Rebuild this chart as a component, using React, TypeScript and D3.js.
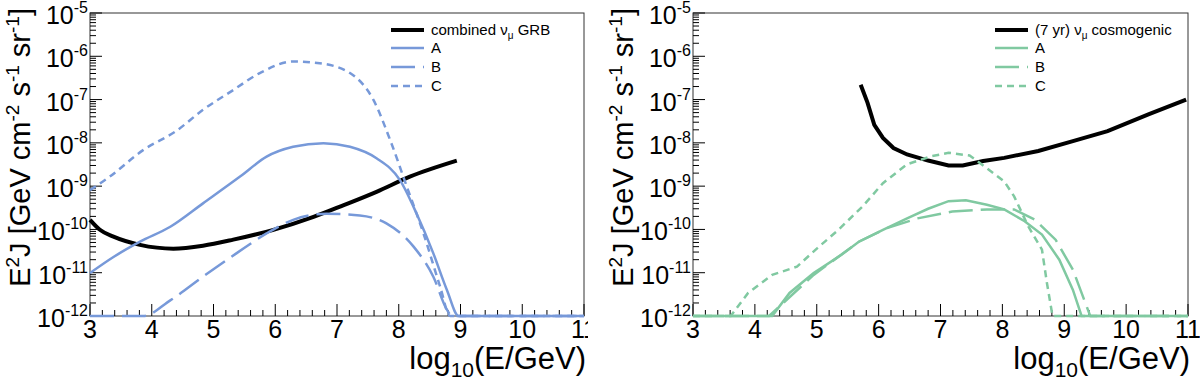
import React from 'react'
import * as d3 from 'd3'

// axes
const xTicks = [3, 4, 5, 6, 7, 8, 9, 10, 11]
const yExponents = [-12, -11, -10, -9, -8, -7, -6, -5]

// left panel - GRB (x = log10(E/GeV), y = E^2 J)
const grbCombinedX = [3.0, 3.16, 3.38, 3.81, 4.35, 4.83, 5.32, 5.97, 6.62, 7.1, 7.64, 8.18, 8.94]
const grbCombinedY = [1.66e-10, 9.8e-11, 6.8e-11, 4.4e-11, 3.6e-11, 4.2e-11, 5.8e-11, 9.8e-11, 1.95e-10, 3.6e-10, 7.4e-10, 1.66e-9, 3.9e-9]

const grbAX = [3.0, 3.38, 3.81, 4.3, 4.83, 5.43, 5.86, 6.29, 6.78, 7.21, 7.64, 8.02, 8.29, 8.56, 8.78, 8.97, 11]
const grbAY = [9.8e-12, 2.3e-11, 5.2e-11, 1.15e-10, 4.0e-10, 1.66e-9, 4.8e-9, 8.1e-9, 9.8e-9, 8.1e-9, 4.4e-9, 1.38e-9, 2.3e-10, 2.8e-11, 4.0e-12, 1e-12, 1e-12]

const grbBX = [3.0, 3.86, 4.3, 4.83, 5.37, 5.86, 6.29, 6.83, 7.37, 7.8, 8.24, 8.56, 8.78, 8.86, 11]
const grbBY = [1e-12, 1e-12, 2.3e-12, 8.1e-12, 2.8e-11, 8.1e-11, 1.66e-10, 2.3e-10, 2.1e-10, 1.38e-10, 4.0e-11, 8.1e-12, 1.4e-12, 1e-12, 1e-12]

const grbCX = [3.0, 3.32, 3.86, 4.4, 4.83, 5.32, 5.75, 6.29, 6.72, 7.21, 7.59, 7.86, 8.13, 8.4, 8.67, 8.83, 11]
const grbCY = [8.1e-10, 1.66e-9, 6.8e-9, 1.9e-8, 5.8e-8, 1.66e-7, 4.1e-7, 7.6e-7, 6.9e-7, 4.1e-7, 9.8e-8, 1.17e-8, 9.8e-10, 8.1e-11, 4.8e-12, 1e-12, 1e-12]

// right panel - cosmogenic
const cosmoSensX = [5.71, 5.82, 5.93, 6.07, 6.24, 6.46, 6.8, 7.13, 7.36, 7.69, 8.03, 8.58, 9.14, 9.7, 10.37, 10.97]
const cosmoSensY = [2.2e-7, 8.5e-8, 2.6e-8, 1.3e-8, 7.6e-9, 5.4e-9, 3.9e-9, 3.0e-9, 3.0e-9, 3.8e-9, 4.5e-9, 6.5e-9, 1.1e-8, 1.86e-8, 4.6e-8, 1.0e-7]

const cosmoAX = [3, 4.28, 4.56, 4.95, 5.4, 5.68, 6.07, 6.46, 6.8, 7.13, 7.41, 7.75, 8.03, 8.36, 8.64, 8.92, 9.14, 9.28, 11]
const cosmoAY = [1e-12, 1e-12, 3.4e-12, 9.8e-12, 2.6e-11, 5.2e-11, 9.8e-11, 1.8e-10, 3.0e-10, 4.5e-10, 4.7e-10, 3.7e-10, 2.9e-10, 1.55e-10, 7.6e-11, 2.0e-11, 4.0e-12, 1e-12, 1e-12]

const cosmoBX = [3, 4.23, 4.95, 5.68, 6.13, 6.63, 7.19, 7.75, 8.19, 8.53, 8.86, 9.14, 9.42, 11]
const cosmoBY = [1e-12, 1e-12, 8.9e-12, 5.2e-11, 1.07e-10, 1.8e-10, 2.6e-10, 2.9e-10, 2.9e-10, 1.66e-10, 5.8e-11, 1.17e-11, 1e-12, 1e-12]

const cosmoCX = [3, 3.61, 3.89, 4.28, 4.68, 5.01, 5.35, 5.74, 6.07, 6.46, 6.85, 7.13, 7.47, 7.75, 8.03, 8.19, 8.42, 8.64, 8.72, 8.81, 11]
const cosmoCY = [1e-12, 1e-12, 3.4e-12, 8.9e-12, 1.38e-11, 3.7e-11, 9.8e-11, 3.4e-10, 1.17e-9, 3.2e-9, 4.9e-9, 5.9e-9, 5.1e-9, 2.6e-9, 1.29e-9, 5.8e-10, 1.17e-10, 3.4e-11, 5.8e-12, 1e-12, 1e-12]

const BLUE = '#7799d9'
const GREEN = '#80c9a1'
const FONT = '"Liberation Sans", Arial, Helvetica, sans-serif'

const zip = (xs: number[], ys: number[]) => xs.map((v, i) => [v, ys[i]] as [number, number])

type Series = { pts: [number, number][]; color: string; width: number; dash?: string }

function Panel({ left, right, series, legendLabel, curve, clipId, clipRight }: {
  left: number
  right: number
  series: Series[]
  legendLabel: React.ReactNode
  curve: any
  clipId: string
  clipRight: number
}) {
  const top = 13
  const bottom = 316
  const x = d3.scaleLinear().domain([3, 11]).range([left, right])
  const y = d3.scaleLog().domain([1e-12, 1e-5]).range([bottom, top])
  const line = d3.line<[number, number]>().x(d => x(d[0])).y(d => y(d[1])).curve(curve)

  // minor ticks
  const yMinor: number[] = []
  yExponents.slice(0, -1).forEach(e => {
    for (let m = 2; m <= 9; m++) yMinor.push(m * Math.pow(10, e))
  })
  const xMinor = d3.range(3, 11.001, 0.2).filter(v => Math.abs(v - Math.round(v)) > 0.01)

  const legendRows = [
    { y: 30, s: series[0] },
    { y: 48, s: series[1], label: 'A' },
    { y: 67, s: series[2], label: 'B' },
    { y: 86, s: series[3], label: 'C' }
  ]

  return (
    <g fontFamily={FONT}>
      <defs>
        <clipPath id={clipId}>
          <rect x={left - 60} y={0} width={clipRight - left + 60} height={385} />
        </clipPath>
      </defs>

      {/* frame */}
      <rect x={left} y={top} width={right - left} height={bottom - top} fill="none" stroke="#333" strokeWidth={1} />

      {/* y ticks */}
      {yExponents.map(e => (
        <line key={'ym' + e} x1={left} x2={left + 12} y1={y(Math.pow(10, e))} y2={y(Math.pow(10, e))} stroke="#000" />
      ))}
      {yMinor.map((v, i) => (
        <line key={'yn' + i} x1={left} x2={left + 6} y1={y(v)} y2={y(v)} stroke="#000" />
      ))}
      {yExponents.map(e => (
        <text key={'yl' + e} x={left - 2} y={y(Math.pow(10, e)) + 11} textAnchor="end" fontSize={25}>
          10<tspan dy={-11} fontSize={16}>{e}</tspan>
        </text>
      ))}

      {/* x ticks */}
      {xTicks.map(t => (
        <line key={'xm' + t} x1={x(t)} x2={x(t)} y1={bottom} y2={bottom - 12} stroke="#000" />
      ))}
      {xMinor.map((v, i) => (
        <line key={'xn' + i} x1={x(v)} x2={x(v)} y1={bottom} y2={bottom - 6} stroke="#000" />
      ))}
      <g clipPath={`url(#${clipId})`}>
        {xTicks.map(t => (
          <text key={'xl' + t} x={x(t)} y={338} textAnchor="middle" fontSize={25}>{t}</text>
        ))}
      </g>

      {/* axis titles */}
      <text transform={`translate(${left - 60},8) rotate(-90)`} textAnchor="end" fontSize={29}>
        E<tspan dy={-11} fontSize={19}>2</tspan>
        <tspan dy={11}>J [GeV cm</tspan>
        <tspan dy={-11} fontSize={19}>-2</tspan>
        <tspan dy={11}> s</tspan>
        <tspan dy={-11} fontSize={19}>-1</tspan>
        <tspan dy={11}> sr</tspan>
        <tspan dy={-11} fontSize={19}>-1</tspan>
        <tspan dy={11}>]</tspan>
      </text>
      <text x={right + 2} y={369} textAnchor="end" fontSize={31}>
        log<tspan dy={8} fontSize={21}>10</tspan>
        <tspan dy={-8}>(E/GeV)</tspan>
      </text>

      {/* curves */}
      {series.map((s, i) => (
        <path
          key={'c' + i}
          d={line(s.pts) || ''}
          fill="none"
          stroke={s.color}
          strokeWidth={s.width}
          strokeDasharray={s.dash}
        />
      ))}

      {/* legend */}
      {legendRows.map((r, i) => (
        <g key={'lg' + i}>
          <line
            x1={right - 193}
            x2={right - 160}
            y1={r.y}
            y2={r.y}
            stroke={r.s.color}
            strokeWidth={r.s.width}
            strokeDasharray={r.s.dash}
          />
          <text x={right - 153} y={r.y + 5} fontSize={15}>
            {i === 0 ? legendLabel : r.label}
          </text>
        </g>
      ))}
    </g>
  )
}

export default function App() {
  const grbSeries: Series[] = [
    { pts: zip(grbCombinedX, grbCombinedY), color: '#000', width: 4 },
    { pts: zip(grbAX, grbAY), color: BLUE, width: 2.5 },
    { pts: zip(grbBX, grbBY), color: BLUE, width: 2.5, dash: '24,8' },
    { pts: zip(grbCX, grbCY), color: BLUE, width: 2.5, dash: '7,5' }
  ]
  const cosmoSeries: Series[] = [
    { pts: zip(cosmoSensX, cosmoSensY), color: '#000', width: 4 },
    { pts: zip(cosmoAX, cosmoAY), color: GREEN, width: 2.5 },
    { pts: zip(cosmoBX, cosmoBY), color: GREEN, width: 2.5, dash: '24,8' },
    { pts: zip(cosmoCX, cosmoCY), color: GREEN, width: 2.5, dash: '7,5' }
  ]

  return (
    <svg width={1200} height={385} style={{ position: 'absolute', left: 0, top: 0, background: '#fff' }}>
      <Panel
        left={90}
        right={584}
        series={grbSeries}
        curve={d3.curveMonotoneX}
        clipId="clipL"
        clipRight={588}
        legendLabel={
          <>
            combined ν<tspan dy={4} fontSize={10}>μ</tspan>
            <tspan dy={-4}> GRB</tspan>
          </>
        }
      />
      <Panel
        left={693}
        right={1188}
        series={cosmoSeries}
        curve={d3.curveLinear}
        clipId="clipR"
        clipRight={1200}
        legendLabel={
          <>
            (7 yr) ν<tspan dy={4} fontSize={10}>μ</tspan>
            <tspan dy={-4}> cosmogenic</tspan>
          </>
        }
      />
    </svg>
  )
}
